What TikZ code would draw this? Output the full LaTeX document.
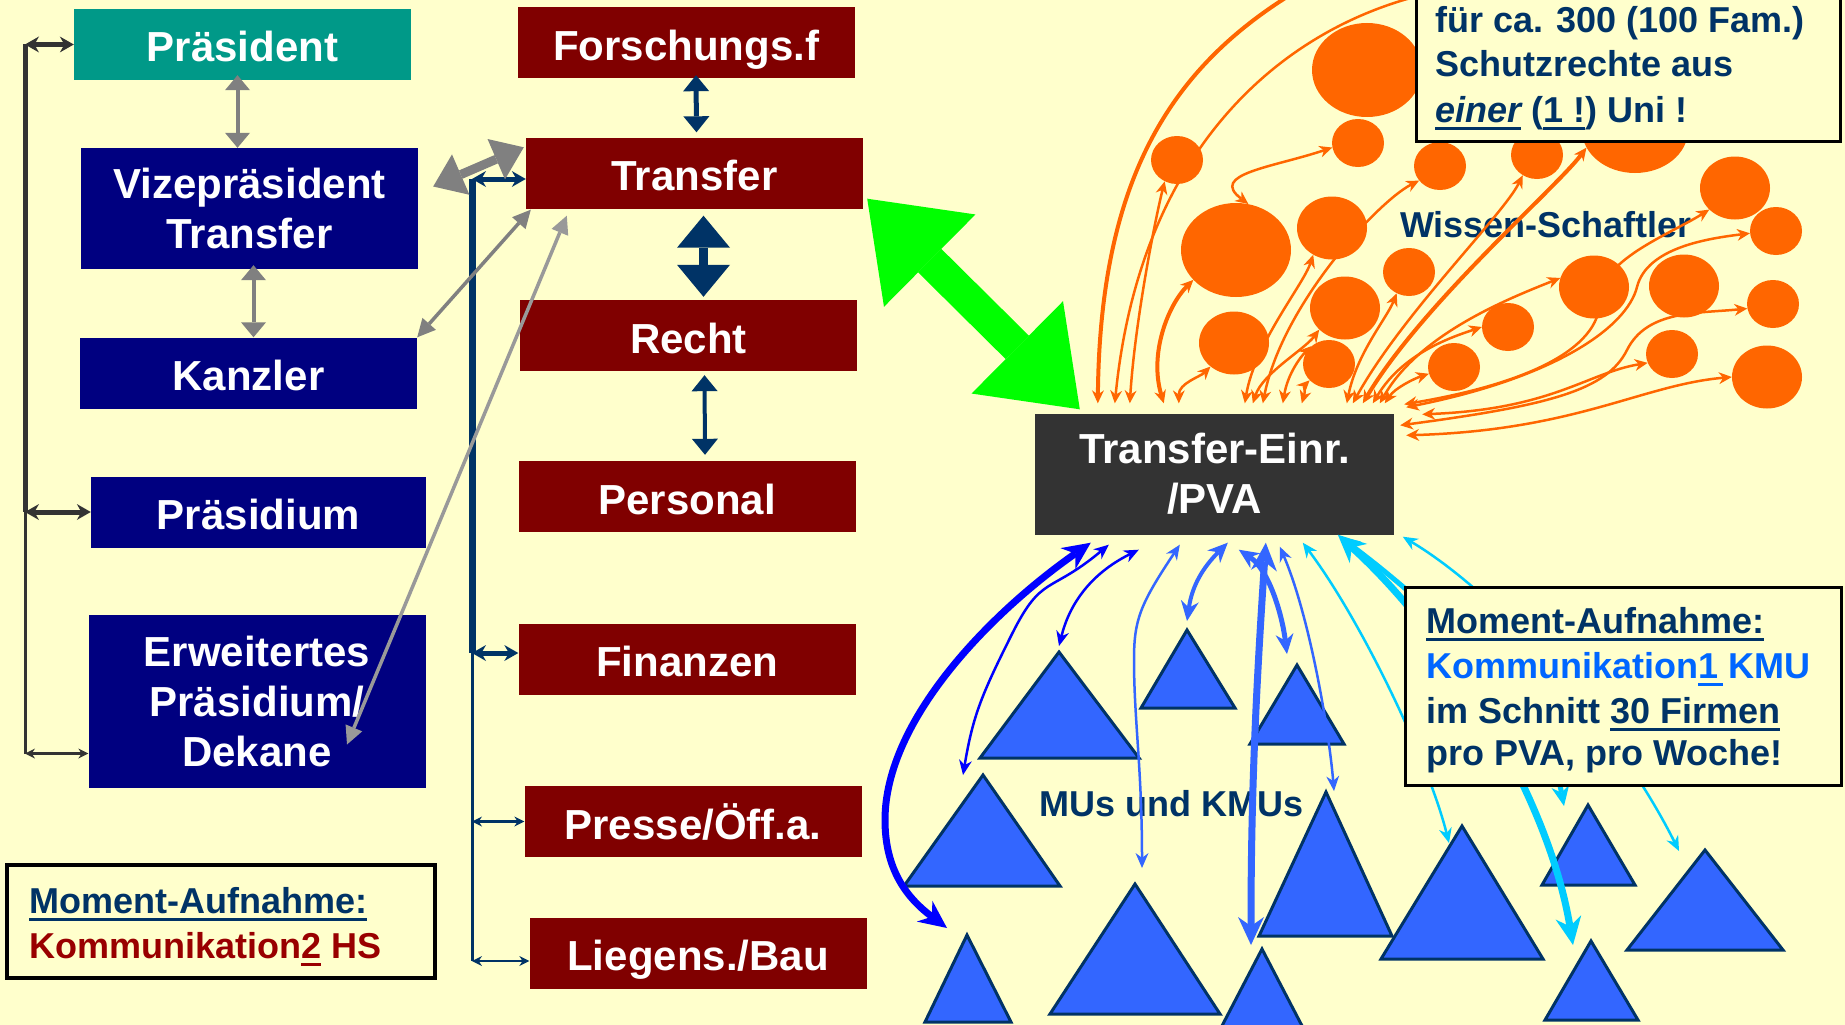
\documentclass[tikz,border=0pt]{standalone}
\usepackage{fontspec}
\setmainfont{Liberation Sans}
\usetikzlibrary{arrows.meta, shapes.geometric, positioning, calc}

\definecolor{bgc}{HTML}{FFFFCC}
\definecolor{teal1}{HTML}{009988}
\definecolor{navy1}{HTML}{000080}
\definecolor{bord}{HTML}{800000}
\definecolor{pvagray}{HTML}{333333}
\definecolor{dblue}{HTML}{003366}
\definecolor{grn}{HTML}{00FF00}
\definecolor{sci}{HTML}{FF6600}
\definecolor{firmblue}{HTML}{3366FF}
\definecolor{kblue}{HTML}{0000FF}
\definecolor{kcyan}{HTML}{00CCFF}
\definecolor{kmublue}{HTML}{0066FF}
\definecolor{hsred}{HTML}{990000}
\definecolor{arrgray}{HTML}{808080}
\definecolor{lgray}{HTML}{999999}

\newcommand{\boxfont}{\fontsize{42}{50}\selectfont\bfseries}
\newcommand{\notefont}{\fontsize{36}{44}\selectfont\bfseries}
\newsavebox{\ulbox}
\newcommand{\ulx}[1]{\sbox{\ulbox}{#1}\rlap{\rule[-8pt]{\wd\ulbox}{3.5pt}}\usebox{\ulbox}}

\tikzset{
  orgbox/.style={
    rectangle, inner sep=0pt, minimum width=337pt, minimum height=71pt,
    align=center, text=white, font=\boxfont
  },
  one/.style={text height=35pt, text depth=0pt},
  leit/.style={orgbox, one, fill=navy1},
  amt/.style={orgbox, one, fill=bord},
  sblob/.style={ellipse, fill=sci, inner sep=0pt, minimum width=52pt, minimum height=48pt},
  mblob/.style={sblob, minimum width=70pt, minimum height=63pt},
  lblob/.style={sblob, minimum width=110pt, minimum height=94pt},
  firm/.style={fill=firmblue, draw=dblue, line width=3pt},
  memo/.style={rectangle, draw=black, fill=bgc, inner sep=0pt},
  memotext/.style={anchor=base west, inner sep=0pt, font=\notefont, text=dblue},
  otip/.tip={Stealth[length=13pt,width=12pt,line width=0pt]},
  btip/.tip={Stealth[length=15pt,width=13pt,line width=0pt]},
  bmid/.tip={Stealth[length=20pt,width=18pt,line width=0pt]},
  bbig/.tip={Stealth[length=28pt,width=26pt,line width=0pt]},
  grtip/.tip={Triangle[length=15pt,width=25pt,line width=0pt]},
  grbig/.tip={Triangle[length=30pt,width=44pt,line width=0pt]},
  grsm/.tip={Triangle[length=18pt,width=18pt,line width=0pt]},
  dbtip/.tip={Triangle[length=16pt,width=26pt,line width=0pt]},
  dbbig/.tip={Triangle[length=32pt,width=53pt,line width=0pt]},
  sptip/.tip={Stealth[length=14pt,width=16pt,line width=0pt]},
  spsm/.tip={Stealth[length=10pt,width=10pt,line width=0pt]},
  gntip/.tip={Triangle[length=88pt,width=130pt,line width=0pt]}
}

\begin{document}
\begin{tikzpicture}[
    x=1pt, y=-1pt,
    spine/.style={draw=pvagray, line width=5pt},
    wlink/.style={draw=sci, line width=2.5pt, otip-otip},
    klink/.style={line width=2.5pt, btip-btip}
    ]
    \useasboundingbox (0,0) rectangle (1845,1025);
    \clip (0,0) rectangle (1845,1025);
    \fill[bgc] (0,0) rectangle (1845,1025);

    % Leitung
    \node[orgbox, one, fill=teal1] (praes) at (242.5,44.5) {Präsident};
    \node[orgbox, fill=navy1, minimum height=121pt] (vize) at (249.5,208.5) {Vizepräsident\\Transfer};
    \node[leit] (kanzler) at (248.5,373) {Kanzler};
    \node[leit, minimum width=335pt] (praesidium) at (258.5,512) {Präsidium};
    \node[orgbox, fill=navy1, minimum height=173pt] (erw) at (257,701.5) {Erweitertes\\Präsidium/\\Dekane};

    % Verwaltung
    \node[amt] (forsch) at (686,42.5) {Forschungs.f};
    \node[amt] (transfer) at (694.5,173) {Transfer};
    \node[amt] (recht) at (688.5,335.5) {Recht};
    \node[amt] (personal) at (687,496.5) {Personal};
    \node[amt] (finanzen) at (687,659) {Finanzen};
    \node[amt] (presse) at (693,821.5) {Presse/Öff.a.};
    \node[amt] (liegens) at (698,953) {Liegens./Bau};

    % Transferstelle
    \node[orgbox, fill=pvagray, minimum width=359pt, minimum height=121pt] (pva) at (1214.5,474) {Transfer-Einr.\\/PVA};

    % linke Klammer
    \coordinate (lbar) at (25,0);
    \coordinate (ea) at ([yshift=-52]erw.west);
    \draw[spine] (praes.west -| lbar) -- (praesidium.west -| lbar);
    \draw[spine, line width=3pt] (praesidium.west -| lbar) -- (ea -| lbar);
    \draw[spine, sptip-sptip] (praes.west -| lbar) -- (praes.west);
    \draw[spine, sptip-sptip] (praesidium.west -| lbar) -- (praesidium.west);
    \draw[spine, line width=3pt, spsm-spsm] (ea -| lbar) -- (ea);

    % rechte Klammer
    \coordinate (rbar) at (472,0);
    \coordinate (ta) at ([yshift=-6]transfer.west);
    \coordinate (fa) at ([yshift=6]finanzen.west);
    \coordinate (la) at ([yshift=-8]liegens.west);
    \draw[dblue, line width=7pt] (ta -| rbar) -- (fa -| rbar);
    \draw[dblue, line width=3pt] (fa -| rbar) -- (la -| rbar);
    \draw[dblue, line width=5pt, sptip-sptip] (ta -| rbar) -- (ta);
    \draw[dblue, line width=5pt, sptip-sptip] (fa -| rbar) -- (fa);
    \draw[dblue, line width=2.5pt, spsm-spsm] (presse.west -| rbar) -- (presse.west);
    \draw[dblue, line width=2.5pt, spsm-spsm] (la -| rbar) -- (la);

    \draw[dblue, line width=5pt, dbtip-dbtip] ([xshift=10,yshift=3]forsch.south) -- ([xshift=2,yshift=5]transfer.north);
    \draw[dblue, line width=9pt, dbbig-dbbig] ([xshift=9,yshift=-7]transfer.south) -- ([xshift=15,yshift=3]recht.north);
    \draw[dblue, line width=4pt, dbtip-dbtip] ([xshift=16,yshift=-4]recht.south) -- ([xshift=18,yshift=6]personal.north);

    % graue Verbindungen
    \draw[arrgray, line width=4pt, grtip-grtip] ([xshift=-5,yshift=5]praes.south) -- ([xshift=-12]vize.north);
    \draw[arrgray, line width=4pt, grtip-grtip] ([xshift=4,yshift=4]vize.south) -- ([xshift=5]kanzler.north);
    \draw[arrgray, line width=9pt, grbig-grbig] ([xshift=15,yshift=22]vize.east) -- ([xshift=-2,yshift=-10]transfer.north west);
    \draw[arrgray, line width=3.5pt, grsm-grsm] (kanzler.north east) -- ([xshift=5,yshift=-1]transfer.south west);
    \draw[lgray, line width=3.5pt, grsm-grsm] ([xshift=41,yshift=-7]transfer.south west) -- ([xshift=90,yshift=-43]erw.center);

    % Transfer <-> PVA
    \draw[grn, line width=33pt, gntip-gntip] ([xshift=4,yshift=10]transfer.south east) -- ([xshift=45,yshift=4]pva.north west);

    % Firmen
    \draw[firm] (1059,652) coordinate (f1) -- ++(80,106) -- ++(-159,0) -- cycle;
    \draw[firm] (1187,630) coordinate (f2) -- ++(48,78) -- ++(-94,0) -- cycle;
    \draw[firm] (1297,665) coordinate (f3) -- ++(47,79) -- ++(-94,0) -- cycle;
    \draw[firm] (983,775) coordinate (f4) -- ++(77,111) -- ++(-156,0) -- cycle;
    \draw[firm] (967,935) coordinate (f5) -- ++(44,87) -- ++(-86,0) -- cycle;
    \draw[firm] (1135,884) coordinate (f6) -- ++(85,130) -- ++(-170,0) -- cycle;
    \draw[firm] (1262,949) coordinate (f7) -- ++(50,96) -- ++(-100,0) -- cycle;
    \draw[firm] (1326,792) coordinate (f8) -- ++(66,144) -- ++(-133,0) -- cycle;
    \draw[firm] (1462,826) coordinate (f9) -- ++(81,133) -- ++(-162,0) -- cycle;
    \draw[firm] (1588,805) coordinate (f10) -- ++(47,80) -- ++(-93,0) -- cycle;
    \draw[firm] (1705,850) coordinate (f11) -- ++(78,100) -- ++(-156,0) -- cycle;
    \draw[firm] (1591,941) coordinate (f12) -- ++(47,79) -- ++(-93,0) -- cycle;

    \node[memotext] (kmus) at (1039,816) {MUs und KMUs};
    \node[memotext] (wiss) at (1400,237) {Wissen-Schaftler};

    % Wissenschaftler
    \node[lblob] (w1) at (1367,70) {};
    \node[sblob] (w2) at (1177,160) {};
    \node[sblob] (w3) at (1358,143) {};
    \node[sblob] (w4) at (1440,166) {};
    \node[sblob] (w5) at (1537,155) {};
    \node[lblob, minimum width=106pt, minimum height=86pt] (w6) at (1635,130) {};
    \node[lblob] (w7) at (1236,250) {};
    \node[mblob] (w8) at (1332,228) {};
    \node[sblob] (w9) at (1409,272) {};
    \node[mblob] (w10) at (1234,343) {};
    \node[mblob] (w11) at (1345,308) {};
    \node[sblob] (w12) at (1329,364) {};
    \node[sblob] (w13) at (1454,367) {};
    \node[sblob] (w14) at (1508,327) {};
    \node[mblob] (w15) at (1594,287) {};
    \node[mblob] (w16) at (1684,286) {};
    \node[sblob] (w17) at (1672,354) {};
    \node[mblob] (w18) at (1735,188) {};
    \node[sblob] (w19) at (1776,231) {};
    \node[sblob] (w20) at (1773,304) {};
    \node[mblob] (w21) at (1767,377) {};

    % Kommunikation Wissenschaft
    \coordinate (pt) at ([yshift=10]pva.north west);
    \coordinate (arcA) at (1290,-5);
    \coordinate (arcB) at (1422,-5);
    \draw[wlink, line width=4pt, -otip] (arcA) .. controls (1170,70) and (1100,180) .. ([xshift=63]pt);
    \draw[wlink, -otip] (arcB) .. controls (1280,30) and (1140,150) .. ([xshift=80]pt);
    \draw[wlink] ([xshift=95]pt) .. controls +(5,-80) and +(-10,40) .. (w2.240);
    \draw[wlink, line width=4pt] ([xshift=129]pt) .. controls +(-15,-50) and +(-25,25) .. (w7.215);
    \draw[wlink] ([xshift=144]pt) .. controls +(0,-20) and +(-10,10) .. (w10.225);
    \draw[wlink] (w7.75) .. controls +(-40,-30) and +(-60,20) .. (w3.190);
    \draw[wlink] ([xshift=210]pt) .. controls +(10,-60) and +(-10,30) .. (w8.235);
    \draw[wlink] ([xshift=218]pt) .. controls +(10,-30) and +(-15,20) .. (w11.220);
    \draw[wlink] ([xshift=228]pt) .. controls +(20,-100) and +(-40,20) .. (w4.215);
    \draw[wlink] ([xshift=248]pt) .. controls +(5,-30) and +(-10,10) .. (w12.135);
    \draw[wlink] ([xshift=267]pt) .. controls +(3,-10) and +(-5,5) .. (w12.220);
    \draw[wlink] ([xshift=312]pt) .. controls +(10,-50) and +(-10,25) .. (w9.240);
    \draw[wlink] ([xshift=318]pt) .. controls +(50,-90) and +(-20,40) .. (w5.235);
    \draw[wlink, line width=4pt] ([xshift=328]pt) .. controls +(60,-100) and +(-30,40) .. (w6.200);
    \draw[wlink] ([xshift=338]pt) .. controls +(30,-50) and +(-30,10) .. (w14.180);
    \draw[wlink] ([xshift=345]pt) .. controls +(40,-70) and +(-50,20) .. (w15.165);
    \draw[wlink] ([xshift=350]pt) .. controls +(10,-15) and +(-15,5) .. (w13.195);
    \draw[wlink] ([xshift=10,yshift=9]pva.north east) .. controls +(120,-20) and +(0,50) .. (1600,300)
      .. controls +(0,-40) and +(-40,25) .. (w18.220);
    \draw[wlink] ([xshift=12,yshift=6]pva.north east) .. controls +(150,-30) and +(-10,40) .. (1637,287)
      .. controls +(10,-40) and +(-40,5) .. (w19.185);
    \draw[wlink] ([xshift=6,yshift=-12]pva.north east) .. controls +(150,-20) and +(-20,40) .. (1627,350)
      .. controls +(20,-40) and +(-50,5) .. (w20.190);
    \draw[wlink] ([xshift=28,yshift=-1]pva.north east) .. controls +(130,-5) and +(-60,10) .. (w17.200);
    \draw[wlink] ([xshift=12,yshift=-22]pva.north east) .. controls +(170,-5) and +(-90,8) .. (w21.180);

    % Kommunikation KMU
    \coordinate (pb) at ([yshift=-10]pva.south west);
    \draw[klink, kblue, line width=7pt, bbig-bbig] ([xshift=56,yshift=2]pb) .. controls +(-100,70) and +(0,-100) .. (885,820)
      .. controls +(0,50) and +(-40,-30) .. ([xshift=-20,yshift=7]f5);
    \draw[klink, kblue] ([xshift=74]pb) .. controls +(-60,50) and +(30,-60) .. (1012,634)
      .. controls +(-30,60) and +(10,-60) .. ([xshift=-20]f4);
    \draw[klink, kblue] ([xshift=104,yshift=-5]pb) .. controls +(-50,25) and +(10,-40) .. ([yshift=6]f1);
    \draw[klink, firmblue] ([xshift=145]pb) .. controls +(-40,60) and +(0,-40) .. (1134,660)
      .. controls +(0,60) and +(0,-100) .. ([xshift=7,yshift=16]f6);
    \draw[klink, firmblue, line width=4pt, bmid-bmid] ([xshift=193,yshift=2]pb) .. controls +(-25,25) and +(5,-35) .. ([yshift=9]f2);
    \draw[klink, firmblue, line width=7pt, bbig-bbig] ([xshift=231,yshift=2]pb) .. controls +(-10,150) and +(0,-150) .. ([xshift=-11,yshift=4]f7);
    \draw[klink, firmblue, line width=5pt, bmid-bmid] ([xshift=204,yshift=-5]pb) .. controls +(30,20) and +(-5,-40) .. ([xshift=-10,yshift=11]f3);
    \draw[klink, firmblue] ([xshift=245,yshift=-2]pb) .. controls +(30,70) and +(-5,-60) .. ([xshift=8,yshift=1]f8);
    \draw[klink, kcyan] ([xshift=268,yshift=2]pb) .. controls +(60,80) and +(-20,-80) .. ([xshift=-13,yshift=-17]f9);
    \draw[klink, kcyan, line width=7pt, bbig-bbig] ([xshift=303,yshift=10]pb) .. controls +(110,100) and +(-25,-150) .. ([xshift=-18,yshift=-4]f12);
    \draw[klink, kcyan, line width=5pt, bmid-bmid] ([xshift=305,yshift=8]pb) .. controls +(120,90) and +(-15,-80) .. ([xshift=-24,yshift=-1]f10);
    \draw[klink, kcyan] ([xshift=368,yshift=8]pb) .. controls +(100,60) and +(-60,-120) .. ([xshift=-26,yshift=-1]f11);

    % Notizen
    \node[memo, line width=3pt, minimum width=424pt, minimum height=250pt, anchor=south west] (note) at (1415,143) {};
    \node[memotext] (note1) at (1435,33) {für ca. 300 (100 Fam.)};
    \node[memotext] (note2) at (1435,77) {Schutzrechte aus};
    \node[memotext] (note3) at (1435,122) {\ulx{\itshape einer} (\ulx{1 !}) Uni !};

    \node[memo, line width=3pt, minimum width=436pt, minimum height=198pt, anchor=north west] (kmumemo) at (1404,586) {};
    \node[memotext] (kmu1) at (1426,633) {\ulx{Moment-Aufnahme:}};
    \node[memotext, text=kmublue] (kmu2) at (1426,678) {Kommunikation\ulx{1\kern5pt}\kern5pt KMU};
    \node[memotext] (kmu3) at (1426,723) {im Schnitt \ulx{30 Firmen}};
    \node[memotext] (kmu4) at (1426,765) {pro PVA, pro Woche!};

    \node[memo, line width=4pt, minimum width=428pt, minimum height=113pt, anchor=north west] (hsmemo) at (5,863) {};
    \node[memotext] (hs1) at (29,913) {\ulx{Moment-Aufnahme:}};
    \node[memotext, text=hsred] (hs2) at (29,958) {Kommunikation\ulx{2} HS};

\end{tikzpicture}
\end{document}
